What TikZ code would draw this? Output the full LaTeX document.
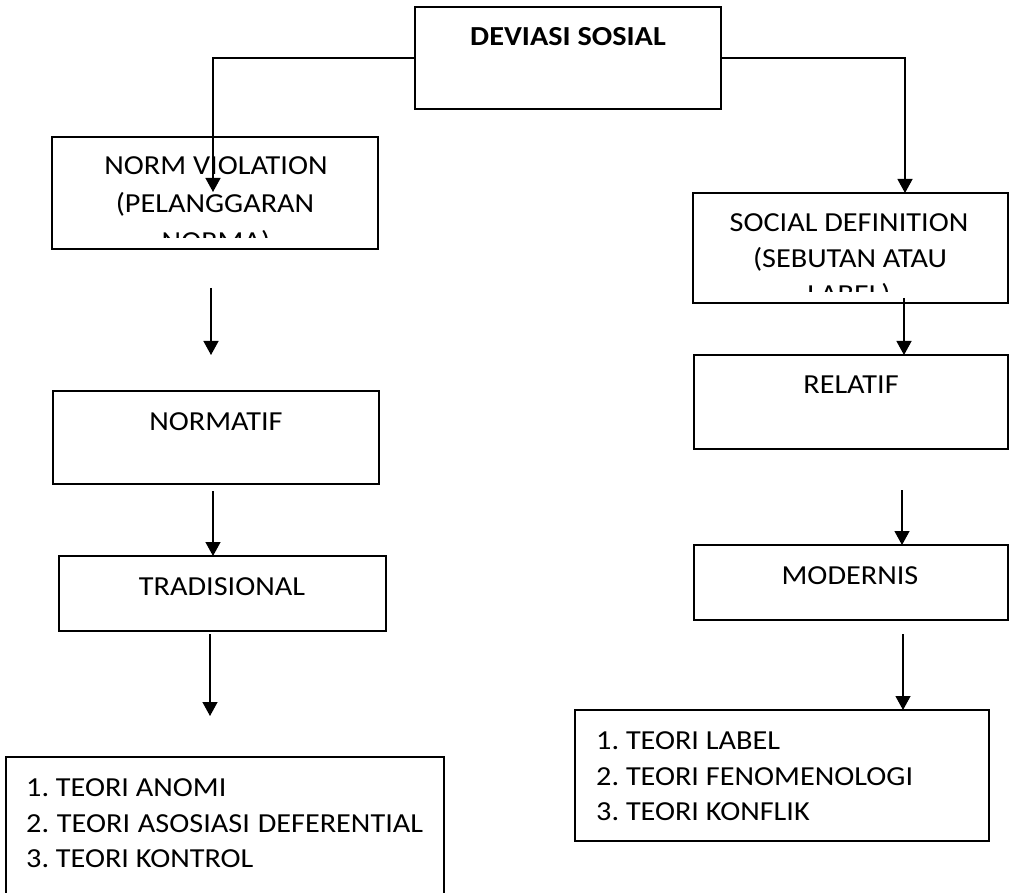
\documentclass[tikz,border=0pt]{standalone}
\usepackage{fontspec}
\setmainfont{Carlito}[FakeStretch=1.1]
\usetikzlibrary{arrows.meta}
\frenchspacing
\begin{document}
\begin{tikzpicture}[x=1pt,y=-1pt,
  box/.style={draw, line width=1.8pt, inner sep=0pt, outer sep=0pt, anchor=north west},
  txt/.style={inner sep=0pt, anchor=base, font=\fontsize{27.5}{32}\selectfont},
  ltxt/.style={inner sep=0pt, anchor=base west, font=\fontsize{27.5}{32}\selectfont},
  arr/.style={line width=1.3pt, -{Triangle[length=14pt,width=15pt]}}]
\clip (0,0) rectangle (1010,893);
\fill[white] (0,0) rectangle (1010,893);
% boxes
\node[box, minimum width=306pt, minimum height=102pt] (dev) at (415,7) {};
\node[box, minimum width=326pt, minimum height=112pt] (norm) at (52,137) {};
\node[box, minimum width=315pt, minimum height=110pt] (soc) at (693,193) {};
\node[box, minimum width=314pt, minimum height=94pt] (rel) at (694,355) {};
\node[box, minimum width=326pt, minimum height=93pt] (nrmf) at (53,391) {};
\node[box, minimum width=314pt, minimum height=75pt] (mod) at (694,545) {};
\node[box, minimum width=327pt, minimum height=75pt] (trad) at (59,556) {};
\node[box, minimum width=438pt, minimum height=200pt] (lst1) at (6,757) {};
\node[box, minimum width=414pt, minimum height=131pt] (lst2) at (575,710) {};
% texts
\node[txt, font=\fontsize{27.5}{32}\selectfont\bfseries] (tdev) at (568,46) {DEVIASI SOSIAL};
\node[txt] (tn1) at (216,175) {NORM VIOLATION};
\node[txt] (tn2) at (215,213) {(PELANGGARAN};
\begin{scope}
\clip (60,200) rectangle (370,238);
\node[txt] (tn3) at (216,251) {NORMA)};
\end{scope}
\node[txt] (ts1) at (849,232) {SOCIAL DEFINITION};
\node[txt] (ts2) at (850,268) {(SEBUTAN ATAU};
\begin{scope}
\clip (700,270) rectangle (1000,292);
\node[txt] (ts3) at (849,304) {LABEL)};
\end{scope}
\node[txt] (tnf) at (216,431) {NORMATIF};
\node[txt] (trel) at (851,394) {RELATIF};
\node[txt] (ttrad) at (222,595) {TRADISIONAL};
\node[txt] (tmod) at (850,584) {MODERNIS};
\node[ltxt] (l11) at (26,796) {1. TEORI ANOMI};
\node[ltxt] (l12) at (26,832) {\makebox[397pt][s]{2. TEORI ASOSIASI DEFERENTIAL}};
\node[ltxt] (l13) at (26,867) {3. TEORI KONTROL};
\node[ltxt] (l21) at (596,749) {1. TEORI LABEL};
\node[ltxt] (l22) at (596,785) {2. TEORI FENOMENOLOGI};
\node[ltxt] (l23) at (596,820) {3. TEORI KONFLIK};
% connectors
\coordinate (t1) at (213,192);
\coordinate (t2) at (905,193);
\draw[arr] (dev.west) -| (t1);
\draw[arr] (dev.east) -| (t2);
\coordinate (s3) at (211,288);
\coordinate (e3) at (211,355);
\draw[arr] (s3) -- (e3);
\coordinate (s4) at (213,491);
\draw[arr] (s4) -- (s4 |- trad.north);
\coordinate (s5) at (210,634);
\coordinate (e5) at (210,716);
\draw[arr] (s5) -- (e5);
\coordinate (s6) at (904,298);
\draw[arr] (s6) -- (s6 |- rel.north);
\coordinate (s7) at (902,490);
\draw[arr] (s7) -- (s7 |- mod.north);
\coordinate (s8) at (903,634);
\draw[arr] (s8) -- (s8 |- lst2.north);
\end{tikzpicture}
\end{document}
